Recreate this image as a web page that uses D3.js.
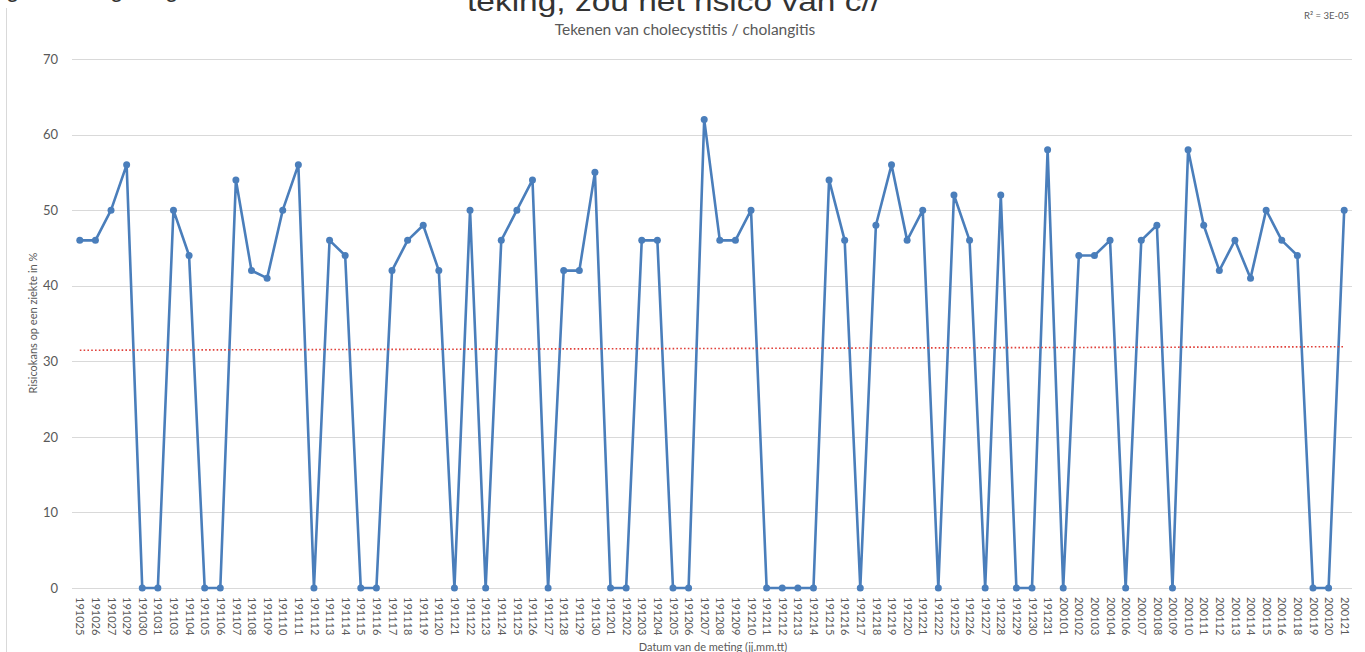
<!DOCTYPE html>
<html>
<head>
<meta charset="utf-8">
<script src="https://cdn.jsdelivr.net/npm/d3@7"></script>
<style>
  html, body { margin: 0; padding: 0; background: #fff; }
  svg { display: block; }
</style>
</head>
<body>
<svg id="chart" width="1365" height="652"></svg>
<script>
// ---- data ----
const dates = ["191025","191026","191027","191029","191030","191031","191103","191104","191105","191106",
  "191107","191108","191109","191110","191111","191112","191113","191114","191115","191116",
  "191117","191118","191119","191120","191121","191122","191123","191124","191125","191126",
  "191127","191128","191129","191130","191201","191202","191203","191204","191205","191206",
  "191207","191208","191209","191210","191211","191212","191213","191214","191215","191216",
  "191217","191218","191219","191220","191221","191222","191225","191226","191227","191228",
  "191229","191230","191231","200101","200102","200103","200104","200106","200107","200108",
  "200109","200110","200111","200112","200113","200114","200115","200116","200118","200119",
  "200120","200121"];
const risk = [46,46,50,56,0,0,50,44,0,0,
  54,42,41,50,56,0,46,44,0,0,
  42,46,48,42,0,50,0,46,50,54,
  0,42,42,55,0,0,46,46,0,0,
  62,46,46,50,0,0,0,0,54,46,
  0,48,56,46,50,0,52,46,0,52,
  0,0,58,0,44,44,46,0,46,48,
  0,58,48,42,46,41,50,46,44,0,
  0,50];
const yTicks = [0,10,20,30,40,50,60,70];
const titleText = "Tekenen van cholecystitis / cholangitis";
const yTitle = "Risicokans op een ziekte in %";
const xTitle = "Datum van de meting (jj.mm.tt)";
const r2Text = "R² = 3E-05";
const docText = "teking; zou het risico van c//";

// ---- drawing ----
const svg = d3.select("#chart");
const font = "Lato, 'Open Sans', sans-serif";
const grey = "#595959";

const x = d3.scalePoint().domain(dates).range([72, 1352]).padding(0.5);
const y = d3.scaleLinear().domain([0, 70]).range([588, 59]);

// document text cut off at top (as in the reference screenshot)
svg.append("text").attr("x", 467).attr("y", 11)
  .attr("font-family", "Arial, 'Liberation Sans', sans-serif").attr("font-size", 28)
  .attr("textLength", 413).attr("lengthAdjust", "spacingAndGlyphs")
  .attr("fill", "#333").text(docText);
[6, 110, 165].forEach(px => {
  svg.append("text").attr("x", px).attr("y", -3)
    .attr("font-family", "Arial, 'Liberation Sans', sans-serif").attr("font-size", 24)
    .attr("fill", "#333").text("g");
});

// chart frame left edge
svg.append("line").attr("x1", 6.5).attr("x2", 6.5).attr("y1", 8).attr("y2", 652)
  .attr("stroke", "#d9d9d9").attr("stroke-width", 1);

// gridlines
svg.append("g").selectAll("line").data(yTicks).join("line")
  .attr("x1", 72).attr("x2", 1352)
  .attr("y1", d => Math.round(y(d)) + 0.5).attr("y2", d => Math.round(y(d)) + 0.5)
  .attr("stroke", "#d9d9d9").attr("stroke-width", 1);

// y axis labels
const yAxis = d3.axisLeft(y).tickValues(yTicks).tickSize(0).tickPadding(0);
const gy = svg.append("g").attr("transform", "translate(58,0)").call(yAxis);
gy.select(".domain").remove();
gy.selectAll("text").attr("font-family", font).attr("font-size", 13).attr("fill", grey);

// x axis labels
const xAxis = d3.axisBottom(x).tickSize(0).tickPadding(0);
const gx = svg.append("g").attr("transform", "translate(0,597)").call(xAxis);
gx.select(".domain").remove();
gx.selectAll("text")
  .attr("font-family", font).attr("font-size", 11).attr("fill", grey)
  .attr("transform", "rotate(90)")
  .attr("text-anchor", "start").attr("dy", "0.35em").attr("x", 0).attr("y", 0);

// titles
svg.append("text").attr("x", 685).attr("y", 35).attr("text-anchor", "middle")
  .attr("font-family", font).attr("font-size", 15.5).attr("fill", grey).text(titleText);
svg.append("text").attr("transform", "translate(37,323) rotate(-90)").attr("text-anchor", "middle")
  .attr("font-family", font).attr("font-size", 11).attr("fill", grey).text(yTitle);
svg.append("text").attr("x", 713).attr("y", 651).attr("text-anchor", "middle")
  .attr("font-family", font).attr("font-size", 11).attr("fill", grey).text(xTitle);
svg.append("text").attr("x", 1304).attr("y", 19)
  .attr("font-family", font).attr("font-size", 9.5).attr("fill", grey).text(r2Text);

// data line
const pts = dates.map((d, i) => ({ d, v: risk[i] }));
svg.append("path").datum(pts)
  .attr("d", d3.line().x(p => x(p.d)).y(p => y(p.v)))
  .attr("fill", "none").attr("stroke", "#4a7ebb").attr("stroke-width", 2.6)
  .attr("stroke-linejoin", "round");
svg.append("g").selectAll("circle").data(pts).join("circle")
  .attr("cx", p => x(p.d)).attr("cy", p => y(p.v)).attr("r", 3.5)
  .attr("fill", "#4a7ebb");

// linear trendline (least squares over index)
const n = risk.length;
const xs = d3.range(1, n + 1);
const mx = d3.mean(xs), my = d3.mean(risk);
const slope = d3.sum(xs, (xi, i) => (xi - mx) * (risk[i] - my)) / d3.sum(xs, xi => (xi - mx) ** 2);
const icpt = my - slope * mx;
const trend = [0, n - 1].map(i => ({ d: dates[i], v: icpt + slope * (i + 1) }));
svg.append("path").datum(trend)
  .attr("d", d3.line().x(p => x(p.d)).y(p => y(p.v)))
  .attr("fill", "none").attr("stroke", "#e0403a").attr("stroke-width", 1.6)
  .attr("stroke-dasharray", "1.6 2.2");
</script>
</body>
</html>
